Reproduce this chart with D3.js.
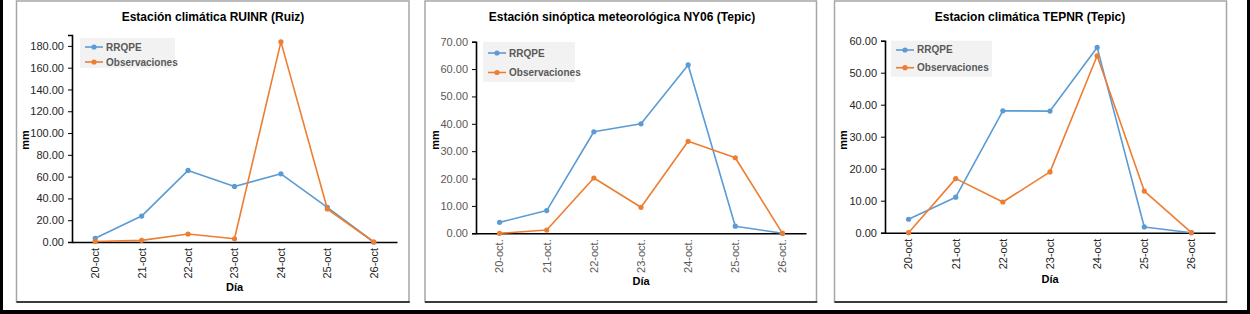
<!DOCTYPE html>
<html>
<head>
<meta charset="utf-8">
<script src="https://cdn.jsdelivr.net/npm/d3@7"></script>
<style>
  body { margin: 0; background: #fff; }
  svg { display: block; font-family: "Liberation Sans", Arial, sans-serif; }
</style>
</head>
<body>
<svg width="1250" height="314"></svg>
<script>
const svg = d3.select("svg");

// data
const days1 = ["20-oct", "21-oct", "22-oct", "23-oct", "24-oct", "25-oct", "26-oct"];
const days2 = ["20-oct.", "21-oct.", "22-oct.", "23-oct.", "24-oct.", "25-oct.", "26-oct."];
const days3 = ["20-oct", "21-oct", "22-oct", "23-oct", "24-oct", "25-oct", "26-oct"];

const rrqpe1 = [3.4, 23.8, 65.7, 51.0, 62.6, 31.8, 0.0];
const obs1   = [0.5, 1.5, 7.3, 3.0, 183.7, 30.3, 0.0];
const rrqpe2 = [4.0, 8.3, 37.1, 40.0, 61.5, 2.6, 0.0];
const obs2   = [0.0, 1.2, 20.2, 9.5, 33.6, 27.6, 0.0];
const rrqpe3 = [4.2, 11.1, 38.1, 38.0, 57.9, 1.8, 0.0];
const obs3   = [0.0, 16.9, 9.6, 19.0, 55.3, 13.0, 0.0];

const ticks1 = [0, 20, 40, 60, 80, 100, 120, 140, 160, 180];
const ticks2 = [0, 10, 20, 30, 40, 50, 60, 70];
const ticks3 = [0, 10, 20, 30, 40, 50, 60];

const titles = [
  "Estación climática RUINR (Ruiz)",
  "Estación sinóptica meteorológica NY06 (Tepic)",
  "Estacion climática TEPNR (Tepic)"
];
const seriesNames = ["RRQPE", "Observaciones"];
const colors = ["#5b9bd5", "#ed7d31"];

// outer black frame
svg.append("rect").attr("x", 0).attr("y", 0).attr("width", 3).attr("height", 314).attr("fill", "#000");
svg.append("rect").attr("x", 1247).attr("y", 0).attr("width", 3).attr("height", 314).attr("fill", "#000");
svg.append("rect").attr("x", 0).attr("y", 310).attr("width", 1250).attr("height", 4).attr("fill", "#000");

const fmt = d3.format(".2f");

const panel = cfg => {
  const g = svg.append("g");

  // chart area frame
  g.append("rect")
    .attr("x", cfg.frame[0]).attr("y", 1)
    .attr("width", cfg.frame[1] - cfg.frame[0]).attr("height", 301)
    .attr("fill", "#fff").attr("stroke", "#a6a6a6").attr("stroke-width", 1.5);
  g.append("line")
    .attr("x1", cfg.frame[0]).attr("x2", cfg.frame[1] + 0.75)
    .attr("y1", 302).attr("y2", 302)
    .attr("stroke", "#111").attr("stroke-width", 1.5);

  const xScale = d3.scaleBand()
    .domain(cfg.days)
    .range([cfg.x0, cfg.x1]);

  const yScale = d3.scaleLinear()
    .domain([0, cfg.yMax])
    .range([cfg.y0, cfg.yTop]);

  const xc = d => xScale(d) + xScale.bandwidth() / 2;

  // y axis
  const yAxisG = g.append("g")
    .attr("transform", `translate(${cfg.x0},0)`)
    .call(d3.axisLeft(yScale).tickValues(cfg.ticks).tickFormat(fmt).tickSize(4).tickPadding(4));
  yAxisG.select(".domain").attr("stroke", "#000").attr("stroke-width", 1.6);
  yAxisG.selectAll(".tick line").attr("stroke", "#000").attr("stroke-width", 1);
  yAxisG.selectAll(".tick text")
    .attr("fill", cfg.tickColor)
    .style("font-size", "11px")
    .style("font-family", "'Liberation Sans', Arial, sans-serif");

  // x axis
  const xAxisG = g.append("g")
    .attr("transform", `translate(0,${cfg.y0})`)
    .call(d3.axisBottom(xScale).tickSize(0).tickSizeOuter(0));
  xAxisG.select(".domain").attr("stroke", "#000").attr("stroke-width", 1.6);
  xAxisG.selectAll(".tick text")
    .attr("fill", cfg.tickColor)
    .style("font-size", "11px")
    .style("font-family", "'Liberation Sans', Arial, sans-serif")
    .attr("text-anchor", "end")
    .attr("transform", "rotate(-90)")
    .attr("x", -6)
    .attr("y", 0)
    .attr("dy", "0.35em");

  // series
  const series = [cfg.rrqpe, cfg.obs];
  const line = d3.line()
    .x((d, i) => xc(cfg.days[i]))
    .y(d => yScale(d));

  series.forEach((vals, s) => {
    g.append("path")
      .datum(vals)
      .attr("fill", "none")
      .attr("stroke", colors[s])
      .attr("stroke-width", 1.6)
      .attr("stroke-linejoin", "round")
      .attr("d", line);
    g.selectAll(null).data(vals).enter().append("circle")
      .attr("cx", (d, i) => xc(cfg.days[i]))
      .attr("cy", d => yScale(d))
      .attr("r", 2.6)
      .attr("fill", colors[s]);
  });

  // title
  g.append("text")
    .attr("x", cfg.titleX).attr("y", 21)
    .attr("text-anchor", "middle")
    .style("font-size", "12px").style("font-weight", "bold")
    .attr("fill", "#000")
    .text(cfg.title);

  // axis titles
  g.append("text")
    .attr("transform", `translate(${cfg.mmX},140) rotate(-90)`)
    .attr("text-anchor", "middle").attr("dy", "0.35em")
    .style("font-size", "11px").style("font-weight", "bold")
    .attr("fill", "#000")
    .text("mm");
  g.append("text")
    .attr("x", (cfg.x0 + cfg.x1) / 2).attr("y", cfg.diaY)
    .attr("text-anchor", "middle")
    .style("font-size", "11px").style("font-weight", "bold")
    .attr("fill", "#000")
    .text("Día");

  // legend
  const lg = g.append("g").attr("transform", `translate(${cfg.legend[0]},${cfg.legend[1]})`);
  lg.append("rect")
    .attr("width", cfg.legend[2]).attr("height", cfg.legend[3])
    .attr("fill", "#f2f2f2");
  seriesNames.forEach((name, s) => {
    const yy = cfg.legendRows[s];
    lg.append("line")
      .attr("x1", 5).attr("x2", 23).attr("y1", yy).attr("y2", yy)
      .attr("stroke", colors[s]).attr("stroke-width", 1.6);
    lg.append("circle").attr("cx", 14).attr("cy", yy).attr("r", 2.6).attr("fill", colors[s]);
    lg.append("text")
      .attr("x", 26).attr("y", yy).attr("dy", "0.35em")
      .style("font-size", "10px").style("font-weight", "bold")
      .attr("fill", "#595959")
      .text(name);
  });
};

panel({
  frame: [16.5, 409], days: days1, rrqpe: rrqpe1, obs: obs1, ticks: ticks1,
  x0: 72, x1: 397, y0: 242, yTop: 35, yMax: 190,
  title: titles[0], titleX: 213, mmX: 25, diaY: 291, tickColor: "#262626",
  legend: [80, 38, 95, 30], legendRows: [9, 24]
});
panel({
  frame: [425, 816.5], days: days2, rrqpe: rrqpe2, obs: obs2, ticks: ticks2,
  x0: 476, x1: 806, y0: 233.3, yTop: 41.7, yMax: 70,
  title: titles[1], titleX: 622, mmX: 435, diaY: 285, tickColor: "#595959",
  legend: [483, 42, 92, 40], legendRows: [11, 30.5]
});
panel({
  frame: [834.5, 1226.5], days: days3, rrqpe: rrqpe3, obs: obs3, ticks: ticks3,
  x0: 885, x1: 1215, y0: 232.7, yTop: 40.7, yMax: 60,
  title: titles[2], titleX: 1030, mmX: 843, diaY: 283, tickColor: "#262626",
  legend: [891, 40.7, 101, 36], legendRows: [9.3, 27]
});
</script>
</body>
</html>
